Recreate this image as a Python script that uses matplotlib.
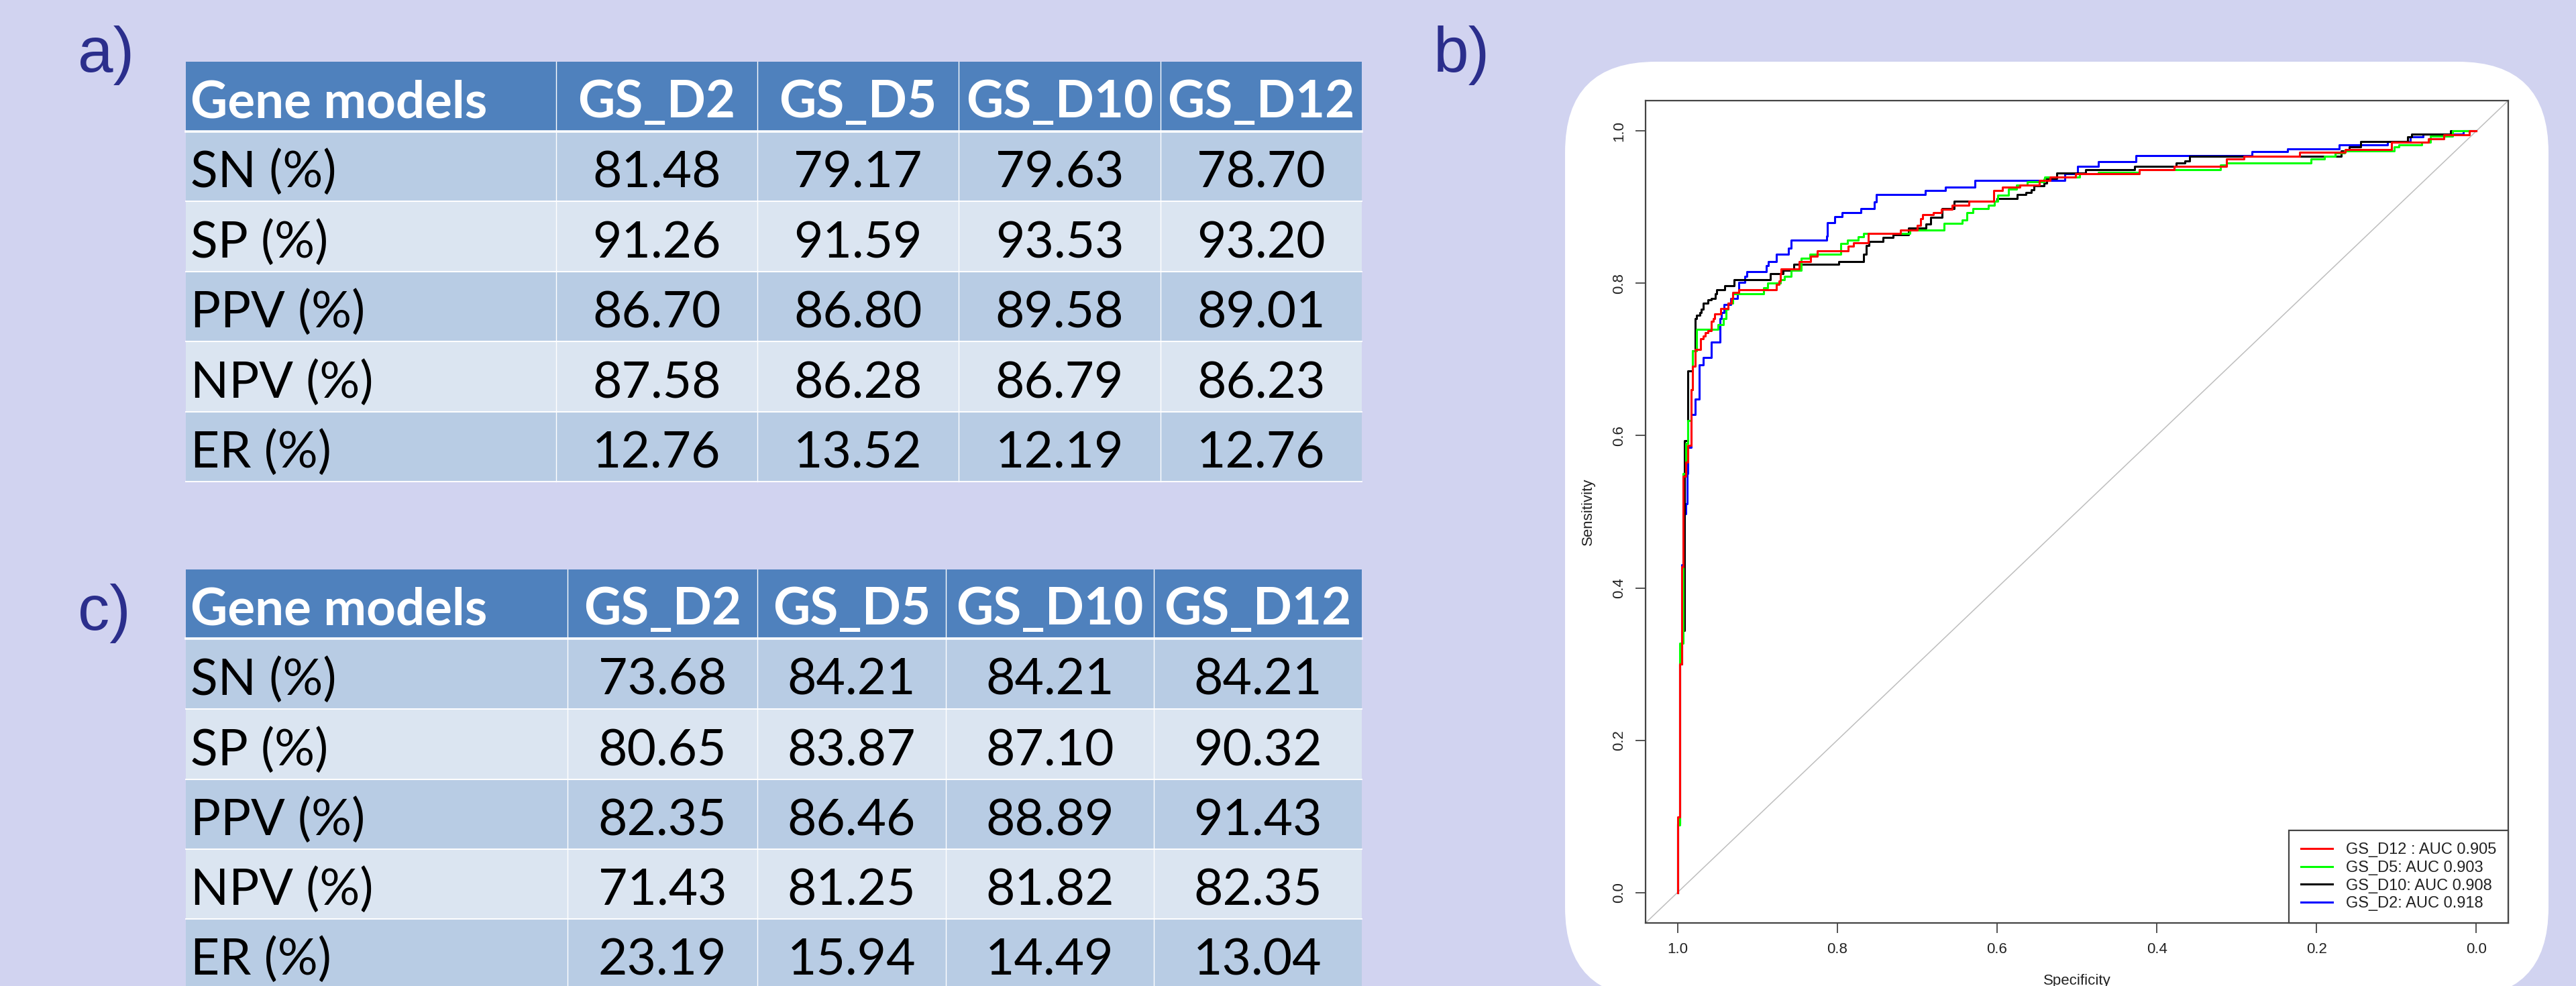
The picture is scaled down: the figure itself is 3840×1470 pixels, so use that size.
import matplotlib
matplotlib.use("Agg")
import matplotlib.pyplot as plt
from matplotlib.patches import Rectangle, FancyBboxPatch

# ---- table data ----
row_labels = ["SN (%)", "SP (%)", "PPV (%)", "NPV (%)", "ER (%)"]
model_names = ["GS_D2", "GS_D5", "GS_D10", "GS_D12"]

table_a = [
    [81.48, 79.17, 79.63, 78.70],
    [91.26, 91.59, 93.53, 93.20],
    [86.70, 86.80, 89.58, 89.01],
    [87.58, 86.28, 86.79, 86.23],
    [12.76, 13.52, 12.19, 12.76],
]
table_c = [
    [73.68, 84.21, 84.21, 84.21],
    [80.65, 83.87, 87.10, 90.32],
    [82.35, 86.46, 88.89, 91.43],
    [71.43, 81.25, 81.82, 82.35],
    [23.19, 15.94, 14.49, 13.04],
]

# ---- ROC curves (specificity, sensitivity at each step) ----
d12_spec = [1.0, 0.9975, 0.995, 0.993, 0.990, 0.987, 0.983, 0.981, 0.9776, 0.971, 0.968, 0.965,
            0.9615, 0.958, 0.955, 0.9534, 0.946, 0.937, 0.9325, 0.931, 0.923, 0.876, 0.873, 0.871,
            0.870, 0.848, 0.833, 0.825, 0.786, 0.780, 0.761, 0.721, 0.700, 0.696, 0.693, 0.680,
            0.670, 0.656, 0.635, 0.604, 0.593, 0.571, 0.547, 0.534, 0.502, 0.422, 0.378, 0.313,
            0.291, 0.221, 0.164, 0.106, 0.060, 0.041, 0.009, 0.0]
d12_sens = [0.099, 0.30, 0.428, 0.547, 0.565, 0.587, 0.660, 0.691, 0.713, 0.727, 0.731, 0.735,
            0.738, 0.750, 0.754, 0.760, 0.767, 0.774, 0.780, 0.788, 0.792, 0.799, 0.803, 0.813,
            0.819, 0.829, 0.836, 0.843, 0.849, 0.853, 0.866, 0.870, 0.876, 0.885, 0.890, 0.893,
            0.897, 0.903, 0.908, 0.922, 0.926, 0.929, 0.935, 0.940, 0.944, 0.949, 0.954, 0.963,
            0.967, 0.972, 0.976, 0.985, 0.990, 0.995, 1.0, 1.0]

d5_spec = [1.0, 0.9975, 0.993, 0.990, 0.987, 0.983, 0.981, 0.976, 0.949, 0.943, 0.939, 0.937,
           0.931, 0.892, 0.887, 0.871, 0.866, 0.858, 0.845, 0.834, 0.796, 0.787, 0.774, 0.767,
           0.709, 0.666, 0.644, 0.638, 0.630, 0.611, 0.603, 0.599, 0.586, 0.576, 0.562, 0.541,
           0.540, 0.497, 0.473, 0.422, 0.320, 0.313, 0.207, 0.190, 0.177, 0.165, 0.103, 0.097,
           0.068, 0.057, 0.030, 0.0]
d5_sens = [0.089, 0.327, 0.550, 0.590, 0.620, 0.660, 0.711, 0.740, 0.746, 0.754, 0.766, 0.774,
           0.786, 0.794, 0.800, 0.805, 0.809, 0.817, 0.833, 0.838, 0.852, 0.857, 0.861, 0.866,
           0.870, 0.879, 0.883, 0.893, 0.898, 0.903, 0.908, 0.916, 0.924, 0.929, 0.933, 0.937,
           0.940, 0.944, 0.946, 0.949, 0.955, 0.958, 0.963, 0.967, 0.971, 0.974, 0.979, 0.982,
           0.985, 0.993, 1.0, 1.0]

d10_spec = [1.0, 0.9975, 0.995, 0.991, 0.987, 0.9815, 0.9776, 0.976, 0.972, 0.970, 0.968, 0.962,
            0.958, 0.953, 0.951, 0.941, 0.929, 0.884, 0.868, 0.854, 0.798, 0.767, 0.764, 0.760,
            0.743, 0.730, 0.711, 0.689, 0.683, 0.669, 0.654, 0.600, 0.575, 0.564, 0.557, 0.554,
            0.541, 0.538, 0.525, 0.489, 0.428, 0.376, 0.365, 0.359, 0.169, 0.159, 0.145, 0.086,
            0.081, 0.032, 0.0]
d10_sens = [0.09, 0.30, 0.344, 0.593, 0.685, 0.711, 0.754, 0.758, 0.762, 0.766, 0.774, 0.778,
            0.780, 0.786, 0.792, 0.797, 0.805, 0.813, 0.817, 0.825, 0.829, 0.838, 0.850, 0.855,
            0.860, 0.864, 0.873, 0.878, 0.887, 0.898, 0.908, 0.911, 0.917, 0.919, 0.923, 0.928,
            0.932, 0.938, 0.945, 0.9495, 0.954, 0.958, 0.961, 0.967, 0.974, 0.979, 0.986, 0.992,
            0.996, 1.0, 1.0]

d2_spec = [1.0, 0.9975, 0.995, 0.993, 0.990, 0.988, 0.987, 0.983, 0.978, 0.973, 0.968, 0.958,
           0.947, 0.945, 0.942, 0.933, 0.925, 0.923, 0.916, 0.913, 0.889, 0.886, 0.876, 0.861,
           0.858, 0.813, 0.812, 0.803, 0.794, 0.770, 0.754, 0.751, 0.690, 0.665, 0.628, 0.515,
           0.4995, 0.473, 0.426, 0.281, 0.236, 0.172, 0.111, 0.083, 0.067, 0.016, 0.0]
d2_sens = [0.09, 0.30, 0.43, 0.497, 0.511, 0.55, 0.585, 0.628, 0.648, 0.693, 0.703, 0.7225,
           0.754, 0.762, 0.772, 0.780, 0.786, 0.801, 0.809, 0.815, 0.823, 0.829, 0.838, 0.846,
           0.857, 0.862, 0.880, 0.888, 0.893, 0.898, 0.907, 0.917, 0.922, 0.926, 0.935, 0.9436,
           0.954, 0.960, 0.968, 0.973, 0.977, 0.982, 0.986, 0.992, 0.996, 1.0, 1.0]

legend_labels = ["GS_D12 : AUC 0.905", "GS_D5: AUC 0.903", "GS_D10: AUC 0.908", "GS_D2: AUC 0.918"]

W, H = 3841, 1470
BG = "#d1d3f0"
HEAD = "#4f81bd"
DARK_ROW = "#b8cce4"
LIGHT_ROW = "#dbe5f1"
LABEL_COL = "#2b2e8c"

fig = plt.figure(figsize=(W / 100, H / 100), dpi=100, facecolor=BG)

# full-figure canvas in pixel units for the tables and panel letters
canvas = fig.add_axes([0, 0, 1, 1], zorder=0)
canvas.set_xlim(0, W)
canvas.set_ylim(H, 0)
canvas.axis("off")


def draw_table(ax, cols, rows, values):
    n_rows = len(rows) - 1
    for i in range(n_rows):
        color = HEAD if i == 0 else (DARK_ROW if i % 2 == 1 else LIGHT_ROW)
        ax.add_patch(Rectangle((cols[0], rows[i]), cols[-1] - cols[0], rows[i + 1] - rows[i],
                               facecolor=color, edgecolor="none", zorder=1))
    # white grid lines
    for x in cols[1:-1]:
        ax.plot([x, x], [rows[0], rows[-1]], color="white", lw=1.0, zorder=2)
    for j, y in enumerate(rows[1:-1]):
        ax.plot([cols[0], cols[-1]], [y, y], color="white", lw=2.6 if j == 0 else 1.4, zorder=2)
    ax.plot([cols[0], cols[-1]], [rows[-1], rows[-1]], color="white", lw=1.4, zorder=2)

    # header
    base = rows[0] + 0.80 * (rows[1] - rows[0])
    ax.text(cols[0] + 7, base, "Gene models", family="Lato", weight="bold", fontsize=55,
            color="white", va="baseline", ha="left", zorder=3)
    for k, name in enumerate(model_names):
        ax.text((cols[k + 1] + cols[k + 2]) / 2, base, name, family="Lato", weight="bold",
                fontsize=55, color="white", va="baseline", ha="center", zorder=3)
    # body
    for i, lab in enumerate(row_labels):
        top, bot = rows[i + 1], rows[i + 2]
        base = top + 0.80 * (bot - top)
        ax.text(cols[0] + 7, base, lab, family="Lato", fontsize=54, color="black",
                va="baseline", ha="left", zorder=3)
        for k, v in enumerate(values[i]):
            ax.text((cols[k + 1] + cols[k + 2]) / 2, base, f"{v:.2f}", family="Lato",
                    fontsize=54, color="black", va="baseline", ha="center", zorder=3)


draw_table(canvas, [277, 829, 1129, 1429, 1730, 2030],
           [92, 196, 300, 405, 509, 614, 718], table_a)
draw_table(canvas, [277, 846, 1129, 1410, 1720, 2030],
           [849, 952, 1057, 1162, 1266, 1370, 1474], table_c)

for txt, x, y in [("a)", 116, 82), ("b)", 2137, 82), ("c)", 116, 914)]:
    canvas.text(x, y, txt, family="Liberation Sans", fontsize=68, color=LABEL_COL,
                ha="left", va="center")

# white rounded panel behind the ROC plot
canvas.add_patch(FancyBboxPatch((2333, 92), 3799 - 2333, 1488 - 92,
                                boxstyle="round,pad=0,rounding_size=135",
                                facecolor="white", edgecolor="none", zorder=1))

# ---- ROC plot ----
ax = fig.add_axes([2453 / W, 1 - 1376 / H, (3739 - 2453) / W, (1376 - 150) / H], zorder=2)
ax.set_facecolor("white")
ax.set_xlim(1.04, -0.04)
ax.set_ylim(-0.04, 1.04)

ax.axline((1.0, 0.0), (0.0, 1.0), color="#bebebe", lw=1.1, zorder=1)

curves = [
    (d2_spec, d2_sens, "#0000ff", legend_labels[3]),
    (d10_spec, d10_sens, "black", legend_labels[2]),
    (d5_spec, d5_sens, "#00ff00", legend_labels[1]),
    (d12_spec, d12_sens, "#ff0000", legend_labels[0]),
]
handles = {}
for spec, sens, col, lab in curves:
    (ln,) = ax.plot([1.0] + spec, [0.0] + sens, drawstyle="steps-post", color=col,
                    lw=2.2, zorder=3, label=lab)
    handles[lab] = ln

ticks = [1.0, 0.8, 0.6, 0.4, 0.2, 0.0]
ax.set_xticks(ticks)
ax.set_xticklabels([f"{t:.1f}" for t in ticks])
ax.set_yticks(ticks[::-1])
ax.set_yticklabels([f"{t:.1f}" for t in ticks[::-1]], rotation=90, va="center")
ax.tick_params(direction="out", length=11, width=1.3, color="#444444",
               labelsize=16, labelcolor="#222222")
ax.tick_params(axis="x", pad=10)
ax.tick_params(axis="y", pad=10)
for lab in ax.get_xticklabels() + ax.get_yticklabels():
    lab.set_family("Liberation Sans")
for sp in ax.spines.values():
    sp.set_color("#444444")
    sp.set_linewidth(1.6)

ax.set_xlabel("Specificity", family="Liberation Sans", fontsize=16, color="#222222")
ax.set_ylabel("Sensitivity", family="Liberation Sans", fontsize=16, color="#222222")
ax.xaxis.set_label_coords(0.5, -0.062)
ax.yaxis.set_label_coords(-0.058, 0.5)

leg = ax.legend([handles[l] for l in legend_labels], legend_labels, loc="lower right",
                bbox_to_anchor=(1.0, 0.0), borderaxespad=0, fancybox=False,
                edgecolor="#444444", framealpha=1, handlelength=2.0, handletextpad=0.85,
                borderpad=0.75, labelspacing=0.2,
                prop={"family": "Liberation Sans", "size": 17})
leg.get_frame().set_linewidth(1.6)
for t in leg.get_texts():
    t.set_color("#222222")

fig.savefig("out.png", dpi=100, facecolor=BG)
